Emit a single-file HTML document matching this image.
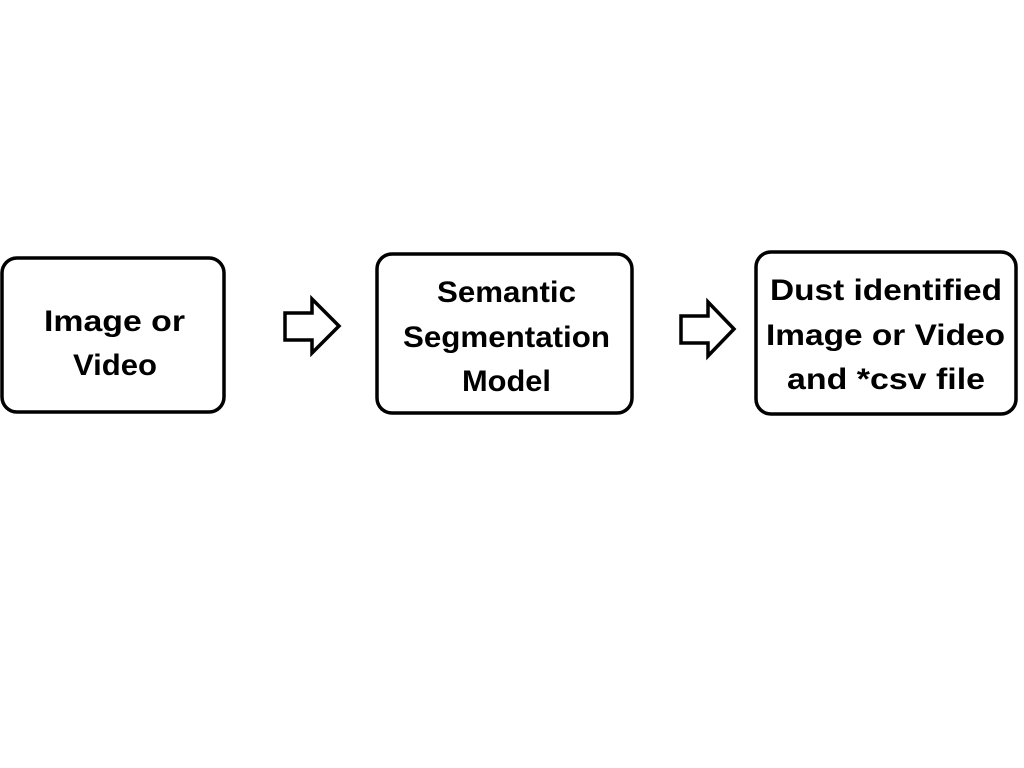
<!DOCTYPE html>
<html><head><style>html,body{margin:0;padding:0;background:#fff;width:1024px;height:768px;overflow:hidden}</style></head>
<body>
<svg width="1024" height="768" xmlns="http://www.w3.org/2000/svg" font-family="Liberation Sans, sans-serif" font-weight="bold" font-size="30" fill="#000">
<rect width="1024" height="768" fill="#fff"/>
<g fill="none" stroke="#000" stroke-width="3.5">
<rect x="2" y="258" width="222" height="154" rx="15"/>
<rect x="377" y="254" width="255" height="159" rx="15"/>
<rect x="756" y="252" width="260" height="162" rx="15"/>
<path d="M285 313 H312 V299 L339 326 L312 353 V340 H285 Z" stroke-linejoin="miter"/>
<path d="M681 316 H708 V302 L734 329 L708 356 V343 H681 Z" stroke-linejoin="miter"/>
</g>
<text x="44" y="331" textLength="141" lengthAdjust="spacingAndGlyphs">Image or</text>
<text x="73" y="375" textLength="84" lengthAdjust="spacingAndGlyphs">Video</text>
<text x="437" y="302" textLength="139" lengthAdjust="spacingAndGlyphs">Semantic</text>
<text x="403" y="347" textLength="207" lengthAdjust="spacingAndGlyphs">Segmentation</text>
<text x="462" y="391" textLength="89" lengthAdjust="spacingAndGlyphs">Model</text>
<text x="770" y="300" textLength="232" lengthAdjust="spacingAndGlyphs">Dust identified</text>
<text x="766" y="345" textLength="239" lengthAdjust="spacingAndGlyphs">Image or Video</text>
<text x="787" y="389" textLength="198" lengthAdjust="spacingAndGlyphs">and *csv file</text>
</svg>
</body></html>
